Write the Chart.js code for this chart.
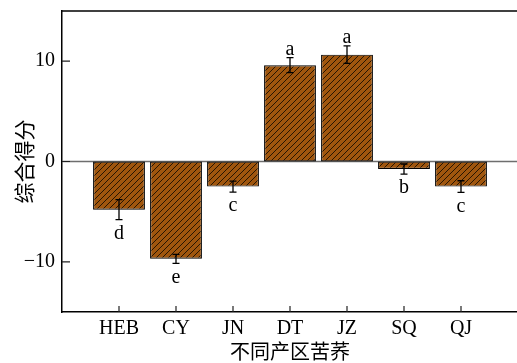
<!DOCTYPE html>
<html>
<head>
<meta charset="utf-8">
<script src="https://cdn.jsdelivr.net/npm/chart.js@4"></script>
<style>
html,body{margin:0;padding:0;background:#fff;overflow:hidden;}
#wrap{width:518px;height:363px;}
</style>
</head>
<body>
<div id="wrap"><canvas id="c" width="518" height="363"></canvas></div>
<script>
// ---- data ----
const categories = ['HEB', 'CY', 'JN', 'DT', 'JZ', 'SQ', 'QJ'];
const scores = [-4.8, -9.7, -2.5, 9.6, 10.65, -0.75, -2.5];
const errors = [1.0, 0.45, 0.55, 0.75, 0.88, 0.5, 0.58];
const letters = ['d', 'e', 'c', 'a', 'a', 'b', 'c'];
const yTicks = [-10, 0, 10];
const xTitle = '不同产区苦荞';
const yTitle = '综合得分';

// ---- hatch pattern ----
function makePattern() {
  const s = 6;
  const pc = document.createElement('canvas');
  pc.width = s; pc.height = s;
  const g = pc.getContext('2d');
  g.fillStyle = 'rgb(160,86,14)';
  g.fillRect(0, 0, s, s);
  g.strokeStyle = '#1a0d00';
  g.lineWidth = 0.9;
  g.beginPath();
  g.moveTo(-1, s + 1); g.lineTo(s + 1, -1);
  g.moveTo(-1, 1); g.lineTo(1, -1);
  g.moveTo(s - 1, s + 1); g.lineTo(s + 1, s - 1);
  g.stroke();
  return g.createPattern(pc, 'repeat');
}

const labels = [''].concat(categories, ['']);
const barData = [null].concat(scores, [null]);
const serif = "'Liberation Serif', 'DejaVu Serif', serif";
const cjk = "'Noto Sans CJK SC', sans-serif";

const decor = {
  id: 'decor',
  beforeDatasetsDraw(chart) {
    const {ctx, chartArea, scales} = chart;
    const y0 = scales.y.getPixelForValue(0);
    ctx.save();
    ctx.strokeStyle = '#6e6e6e';
    ctx.lineWidth = 1.5;
    ctx.beginPath();
    ctx.moveTo(chartArea.left, y0);
    ctx.lineTo(chartArea.right, y0);
    ctx.stroke();
    ctx.restore();
  },
  afterDatasetsDraw(chart) {
    const {ctx, chartArea, scales} = chart;
    const meta = chart.getDatasetMeta(0);
    ctx.save();
    // error bars
    ctx.strokeStyle = '#000';
    ctx.lineWidth = 1.3;
    scores.forEach((v, i) => {
      const x = meta.data[i + 1].x;
      const yHi = scales.y.getPixelForValue(v + errors[i]);
      const yLo = scales.y.getPixelForValue(v - errors[i]);
      ctx.beginPath();
      ctx.moveTo(x, yHi); ctx.lineTo(x, yLo);
      ctx.moveTo(x - 3.5, yHi); ctx.lineTo(x + 3.5, yHi);
      ctx.moveTo(x - 3.5, yLo); ctx.lineTo(x + 3.5, yLo);
      ctx.stroke();
    });
    // letters
    ctx.fillStyle = '#000';
    ctx.font = '20px ' + serif;
    ctx.textAlign = 'center';
    scores.forEach((v, i) => {
      const x = meta.data[i + 1].x;
      if (v >= 0) {
        ctx.textBaseline = 'alphabetic';
        ctx.fillText(letters[i], x, scales.y.getPixelForValue(v + errors[i]) - 3);
      } else {
        ctx.textBaseline = 'top';
        ctx.fillText(letters[i], x, scales.y.getPixelForValue(v - errors[i]) + 4);
      }
    });
    // frame: top border
    ctx.strokeStyle = '#000';
    ctx.lineWidth = 1.6;
    ctx.beginPath();
    ctx.moveTo(chartArea.left, chartArea.top);
    ctx.lineTo(chartArea.right, chartArea.top);
    ctx.stroke();
    // inward tick marks
    ctx.lineWidth = 1.2;
    ctx.strokeStyle = '#222';
    ctx.beginPath();
    yTicks.forEach(t => {
      const py = scales.y.getPixelForValue(t);
      ctx.moveTo(chartArea.left, py); ctx.lineTo(chartArea.left + 8, py);
    });
    categories.forEach((c, i) => {
      const px = scales.x.getPixelForValue(i + 1);
      ctx.moveTo(px, chartArea.bottom); ctx.lineTo(px, chartArea.bottom - 6);
    });
    ctx.stroke();
    ctx.restore();
  }
};

new Chart(document.getElementById('c'), {
  type: 'bar',
  data: {
    labels: labels,
    datasets: [{
      data: barData,
      backgroundColor: makePattern(),
      borderColor: '#000',
      borderWidth: 1.2,
      borderSkipped: false,
      barPercentage: 0.91,
      categoryPercentage: 1.0
    }]
  },
  options: {
    responsive: false,
    animation: false,
    devicePixelRatio: 1,
    layout: {padding: {top: 2, left: 0, right: 0, bottom: 0}},
    plugins: {legend: {display: false}, tooltip: {enabled: false}},
    scales: {
      x: {
        type: 'category',
        offset: false,
        grid: {display: false},
        border: {display: true, color: '#000', width: 1.5},
        ticks: {
          color: '#000',
          font: {family: serif, size: 20},
          padding: -3,
          maxRotation: 0,
          autoSkip: false
        },
        title: {display: true, text: xTitle, color: '#000', font: {family: cjk, size: 20}, padding: {top: 0, bottom: 0}},
        afterFit(s) { s.height = 51; }
      },
      y: {
        min: -15,
        max: 15,
        grid: {display: false},
        border: {display: true, color: '#000', width: 1.5},
        afterBuildTicks(s) { s.ticks = yTicks.map(v => ({value: v})); },
        ticks: {
          color: '#000',
          font: {family: serif, size: 20},
          padding: -1,
          callback: v => (v < 0 ? '\u2212' + Math.abs(v) : String(v))
        },
        title: {display: true, text: yTitle, color: '#000', font: {family: cjk, size: 21}, padding: {top: 11, bottom: 0}},
        afterFit(s) { s.width = 62; }
      }
    }
  },
  plugins: [decor]
});
</script>
</body>
</html>
